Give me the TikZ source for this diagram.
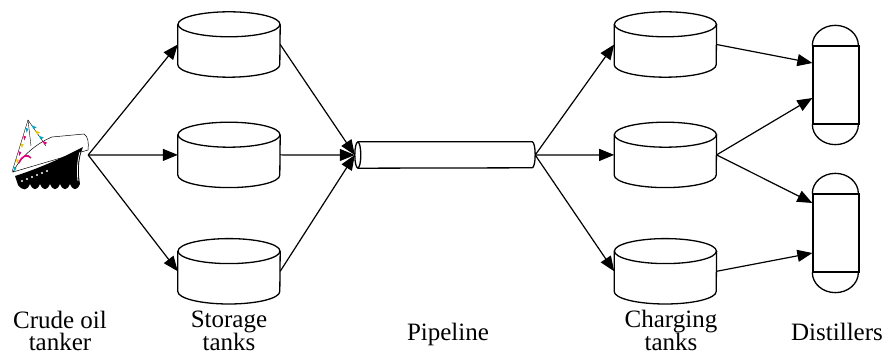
\documentclass[tikz,border=0pt]{standalone}
\usepackage{fontspec}
\setmainfont{Liberation Serif}
\usetikzlibrary{positioning,arrows.meta,calc}
\definecolor{flagmag}{RGB}{228,0,124}
\definecolor{flagyel}{RGB}{236,204,0}
\definecolor{flagcyan}{RGB}{0,168,200}

\begin{document}
\begin{tikzpicture}[
	x=1pt, y=1pt,
	tank/.style = {minimum width=102pt, minimum height=65pt, inner sep=0pt},
	pipe/.style = {minimum width=174pt, minimum height=26pt, inner sep=0pt},
	still/.style = {draw, line width=1.3pt, minimum width=46pt, minimum height=78pt},
	outline/.style = {line width=1.3pt},
	flow/.style = {-{Triangle[length=15pt,width=12pt]}, line width=1.2pt},
	lbl/.style = {anchor=base, align=center, font=\fontsize{25}{22.5}\selectfont},
	node distance=45pt
]
\useasboundingbox (0,0) rectangle (884,356);

% Tanker (drawn top-down in a flipped scope)
\node [minimum width=84pt, minimum height=76pt] (ship) at (46,201) {};
\begin{scope}[shift={(0,356)}, yscale=-1]
\filldraw [fill=white, line width=0.5pt] (13,172) .. controls (20,158) and (35,144) .. (52,137)
	-- (84,134) .. controls (88,136) and (89,143) .. (88,150) -- cycle;
\fill (15,176) .. controls (40,168) and (62,158) .. (83,147)
	.. controls (78,160) and (78,172) .. (80,184)
	.. controls (77,191) and (73,191) .. (70,184)
	.. controls (67,191) and (63,191) .. (60,184)
	.. controls (57,191) and (53,191) .. (50,184)
	.. controls (47,191) and (43,191) .. (40,184)
	.. controls (37,191) and (33,191) .. (30,184)
	.. controls (27,191) and (23,191) .. (18,185) -- cycle;
\foreach \i in {0,...,5}
	\fill [white] ({22+5*\i},{181-2*\i}) circle (1.1pt);
\draw [white, line width=0.8pt] (80,152) .. controls (77,162) and (77,172) .. (78,181);
\draw [line width=0.4pt] (28,120) -- (31,146);
\draw [line width=0.4pt] (28,120) -- (12,172);
\draw [line width=0.4pt] (28,120) -- (46,146);
\draw [flagmag, line width=1.6pt] (19,163) .. controls (22,155) and (28,154) .. (31,158);
\foreach \t/\c in {0.15/flagcyan,0.3/flagmag,0.45/flagyel,0.6/flagmag,0.75/flagyel,0.9/flagcyan}
	\fill [\c] ($(28,120)!\t!(12,172)$) -- ++(3,1) -- ++(-2,4) -- cycle;
\foreach \t/\c in {0.2/flagcyan,0.4/flagyel,0.6/flagcyan,0.8/flagmag}
	\fill [\c] ($(28,120)!\t!(46,146)$) -- ++(2,4) -- ++(3,-2) -- cycle;
\end{scope}

% Storage tanks
\node [tank] (st1) at (229,311.5) {};
\node [tank, below=45pt of st1] (st2) {};
\node [tank, below=51pt of st2] (st3) {};

% Pipeline
\node [pipe] (pipe) at (445,201) {};
\draw [outline] (pipe.west) ellipse [x radius=3pt, y radius=13pt];
\draw [outline] (pipe.north west) -- (pipe.north east)
	arc [start angle=90, end angle=-90, x radius=3pt, y radius=13pt] -- (pipe.south west);

% Charging tanks
\node [tank, right=334pt of st1] (ch1) {};
\node [tank, right=334pt of st2] (ch2) {};
\node [tank, right=334pt of st3] (ch3) {};

% tank outlines: body and top lid
\foreach \t in {st1,st2,st3,ch1,ch2,ch3} {
	\draw [outline] ([yshift=-12.5pt]\t.north west) -- ([yshift=12.5pt]\t.south west)
		arc [start angle=180, end angle=360, x radius=51pt, y radius=12.5pt]
		-- ([yshift=-12.5pt]\t.north east);
	\draw [outline] ([yshift=-12.5pt]\t.north) ellipse [x radius=51pt, y radius=12.5pt];
}

% Distillers
\node [still] (d1) at (836,271) {};
\node [still] (d2) at (836,123) {};
\foreach \d in {d1,d2} {
	\draw [outline] (\d.north west) arc [start angle=180, end angle=0, x radius=23pt, y radius=20pt];
	\draw [outline] (\d.south west) arc [start angle=180, end angle=360, x radius=23pt, y radius=20pt];
}

% Flows
\foreach \t in {st1,st2,st3} {
	\draw [flow] (ship.east) -- (\t.west);
	\draw [flow] (\t.east) -- ([xshift=-3pt]pipe.west);
}
\foreach \t in {ch1,ch2,ch3}
	\draw [flow] ([xshift=3pt]pipe.east) -- (\t.west);
\draw [flow] (ch1.east) -- ([yshift=22pt]d1.west);
\draw [flow] (ch2.east) -- ([yshift=-13pt]d1.west);
\draw [flow] (ch2.east) -- ([yshift=30pt]d2.west);
\draw [flow] (ch3.east) -- ([yshift=-20pt]d2.west);

% Labels
\node [lbl] (lship) at (60,5) {Crude oil\\tanker};
\node [lbl] (lstore) at (229,5) {Storage\\tanks};
\node [lbl] (lpipe) at (448,15) {Pipeline};
\node [lbl] (lcharge) at (671,5) {Charging\\tanks};
\node [lbl] (lstill) at (837,15) {Distillers};

\end{tikzpicture}
\end{document}
